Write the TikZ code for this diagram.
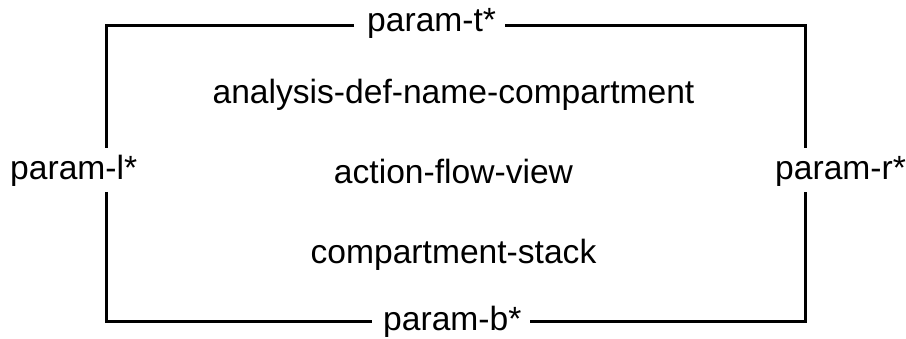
\documentclass[tikz,border=0pt]{standalone}
\usepackage{fontspec}
\setmainfont{Liberation Sans}
\begin{document}
\begin{tikzpicture}[x=1pt,y=-1pt,
  lbl/.style={inner sep=0pt, font=\fontsize{33.6}{40}\selectfont},
  frame/.style={line width=3pt, line cap=butt, line join=miter}]
\useasboundingbox (0,0) rectangle (906,339);
% labels
\node[lbl, anchor=base west] (pt) at (367,32) {param-t*};
\node[lbl, anchor=base west] (pb) at (383,331) {param-b*};
\node[lbl, anchor=base west] (pl) at (10,180) {param-l*};
\node[lbl, anchor=base west] (pr) at (775,180) {param-r*};
\node[lbl, anchor=base] (a1) at (453.5,104) {analysis-def-name-compartment};
\node[lbl, anchor=base] (a2) at (453.5,184) {action-flow-view};
\node[lbl, anchor=base] (a3) at (453.5,264) {compartment-stack};
% frame corners and gap ends
\coordinate (tl) at (106,26);
\coordinate (tr) at (805,26);
\coordinate (bl) at (106,322);
\coordinate (br) at (805,322);
\coordinate (t1) at (354,26);
\coordinate (t2) at (505,26);
\coordinate (b1) at (372,322);
\coordinate (b2) at (530,322);
\coordinate (l1) at (106,148);
\coordinate (l2) at (106,192);
\coordinate (r1) at (805,148);
\coordinate (r2) at (805,192);
\draw[frame] (t1) -- (tl) -- (l1);
\draw[frame] (l2) -- (bl) -- (b1);
\draw[frame] (b2) -- (br) -- (r2);
\draw[frame] (r1) -- (tr) -- (t2);
\end{tikzpicture}
\end{document}
